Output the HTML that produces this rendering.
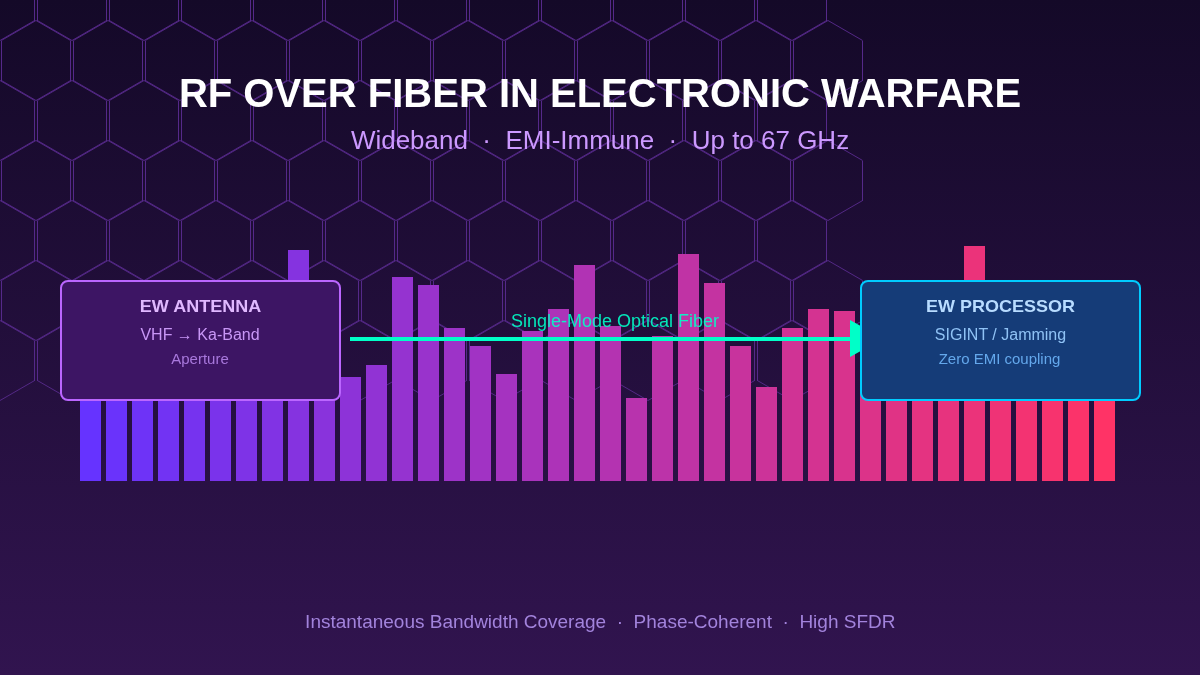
<!DOCTYPE html>
<html><head><meta charset="utf-8"><title>RF over Fiber in Electronic Warfare</title>
<style>
html,body{margin:0;padding:0;background:#150a28;}
body{width:1200px;height:675px;overflow:hidden;}
svg{display:block;font-family:"Liberation Sans",sans-serif;}
</style></head><body>
<svg width="1200" height="675" viewBox="0 0 1200 675">
<defs>
<linearGradient id="bg" x1="0" y1="0" x2="0" y2="1"><stop offset="0" stop-color="#140928"/><stop offset="1" stop-color="#31144f"/></linearGradient>
</defs>
<rect width="1200" height="675" fill="url(#bg)"/>
<g fill="none" stroke="#552989" stroke-width="1" transform="translate(0 0.5)">
<path shape-rendering="crispEdges" d="M34.64 -20.00L34.64 20.00M-34.64 20.00L-34.64 -20.00M106.64 -20.00L106.64 20.00M37.36 20.00L37.36 -20.00M178.64 -20.00L178.64 20.00M109.36 20.00L109.36 -20.00M250.64 -20.00L250.64 20.00M181.36 20.00L181.36 -20.00M322.64 -20.00L322.64 20.00M253.36 20.00L253.36 -20.00M394.64 -20.00L394.64 20.00M325.36 20.00L325.36 -20.00M466.64 -20.00L466.64 20.00M397.36 20.00L397.36 -20.00M538.64 -20.00L538.64 20.00M469.36 20.00L469.36 -20.00M610.64 -20.00L610.64 20.00M541.36 20.00L541.36 -20.00M682.64 -20.00L682.64 20.00M613.36 20.00L613.36 -20.00M754.64 -20.00L754.64 20.00M685.36 20.00L685.36 -20.00M826.64 -20.00L826.64 20.00M757.36 20.00L757.36 -20.00M70.64 40.00L70.64 80.00M1.36 80.00L1.36 40.00M142.64 40.00L142.64 80.00M73.36 80.00L73.36 40.00M214.64 40.00L214.64 80.00M145.36 80.00L145.36 40.00M286.64 40.00L286.64 80.00M217.36 80.00L217.36 40.00M358.64 40.00L358.64 80.00M289.36 80.00L289.36 40.00M430.64 40.00L430.64 80.00M361.36 80.00L361.36 40.00M502.64 40.00L502.64 80.00M433.36 80.00L433.36 40.00M574.64 40.00L574.64 80.00M505.36 80.00L505.36 40.00M646.64 40.00L646.64 80.00M577.36 80.00L577.36 40.00M718.64 40.00L718.64 80.00M649.36 80.00L649.36 40.00M790.64 40.00L790.64 80.00M721.36 80.00L721.36 40.00M862.64 40.00L862.64 80.00M793.36 80.00L793.36 40.00M34.64 100.00L34.64 140.00M-34.64 140.00L-34.64 100.00M106.64 100.00L106.64 140.00M37.36 140.00L37.36 100.00M178.64 100.00L178.64 140.00M109.36 140.00L109.36 100.00M250.64 100.00L250.64 140.00M181.36 140.00L181.36 100.00M322.64 100.00L322.64 140.00M253.36 140.00L253.36 100.00M394.64 100.00L394.64 140.00M325.36 140.00L325.36 100.00M466.64 100.00L466.64 140.00M397.36 140.00L397.36 100.00M538.64 100.00L538.64 140.00M469.36 140.00L469.36 100.00M610.64 100.00L610.64 140.00M541.36 140.00L541.36 100.00M682.64 100.00L682.64 140.00M613.36 140.00L613.36 100.00M754.64 100.00L754.64 140.00M685.36 140.00L685.36 100.00M826.64 100.00L826.64 140.00M757.36 140.00L757.36 100.00M70.64 160.00L70.64 200.00M1.36 200.00L1.36 160.00M142.64 160.00L142.64 200.00M73.36 200.00L73.36 160.00M214.64 160.00L214.64 200.00M145.36 200.00L145.36 160.00M286.64 160.00L286.64 200.00M217.36 200.00L217.36 160.00M358.64 160.00L358.64 200.00M289.36 200.00L289.36 160.00M430.64 160.00L430.64 200.00M361.36 200.00L361.36 160.00M502.64 160.00L502.64 200.00M433.36 200.00L433.36 160.00M574.64 160.00L574.64 200.00M505.36 200.00L505.36 160.00M646.64 160.00L646.64 200.00M577.36 200.00L577.36 160.00M718.64 160.00L718.64 200.00M649.36 200.00L649.36 160.00M790.64 160.00L790.64 200.00M721.36 200.00L721.36 160.00M862.64 160.00L862.64 200.00M793.36 200.00L793.36 160.00M34.64 220.00L34.64 260.00M-34.64 260.00L-34.64 220.00M106.64 220.00L106.64 260.00M37.36 260.00L37.36 220.00M178.64 220.00L178.64 260.00M109.36 260.00L109.36 220.00M250.64 220.00L250.64 260.00M181.36 260.00L181.36 220.00M322.64 220.00L322.64 260.00M253.36 260.00L253.36 220.00M394.64 220.00L394.64 260.00M325.36 260.00L325.36 220.00M466.64 220.00L466.64 260.00M397.36 260.00L397.36 220.00M538.64 220.00L538.64 260.00M469.36 260.00L469.36 220.00M610.64 220.00L610.64 260.00M541.36 260.00L541.36 220.00M682.64 220.00L682.64 260.00M613.36 260.00L613.36 220.00M754.64 220.00L754.64 260.00M685.36 260.00L685.36 220.00M826.64 220.00L826.64 260.00M757.36 260.00L757.36 220.00M70.64 280.00L70.64 320.00M1.36 320.00L1.36 280.00M142.64 280.00L142.64 320.00M73.36 320.00L73.36 280.00M214.64 280.00L214.64 320.00M145.36 320.00L145.36 280.00M286.64 280.00L286.64 320.00M217.36 320.00L217.36 280.00M358.64 280.00L358.64 320.00M289.36 320.00L289.36 280.00M430.64 280.00L430.64 320.00M361.36 320.00L361.36 280.00M502.64 280.00L502.64 320.00M433.36 320.00L433.36 280.00M574.64 280.00L574.64 320.00M505.36 320.00L505.36 280.00M646.64 280.00L646.64 320.00M577.36 320.00L577.36 280.00M718.64 280.00L718.64 320.00M649.36 320.00L649.36 280.00M790.64 280.00L790.64 320.00M721.36 320.00L721.36 280.00M862.64 280.00L862.64 320.00M793.36 320.00L793.36 280.00M34.64 340.00L34.64 380.00M-34.64 380.00L-34.64 340.00M106.64 340.00L106.64 380.00M37.36 380.00L37.36 340.00M178.64 340.00L178.64 380.00M109.36 380.00L109.36 340.00M250.64 340.00L250.64 380.00M181.36 380.00L181.36 340.00M322.64 340.00L322.64 380.00M253.36 380.00L253.36 340.00M394.64 340.00L394.64 380.00M325.36 380.00L325.36 340.00M466.64 340.00L466.64 380.00M397.36 380.00L397.36 340.00M538.64 340.00L538.64 380.00M469.36 380.00L469.36 340.00M610.64 340.00L610.64 380.00M541.36 380.00L541.36 340.00M682.64 340.00L682.64 380.00M613.36 380.00L613.36 340.00M754.64 340.00L754.64 380.00M685.36 380.00L685.36 340.00M826.64 340.00L826.64 380.00M757.36 380.00L757.36 340.00"/>
<path stroke-width="0.95" d="M-34.64 -20.00L0.00 -40.00L34.64 -20.00M34.64 20.00L0.00 40.00L-34.64 20.00M37.36 -20.00L72.00 -40.00L106.64 -20.00M106.64 20.00L72.00 40.00L37.36 20.00M109.36 -20.00L144.00 -40.00L178.64 -20.00M178.64 20.00L144.00 40.00L109.36 20.00M181.36 -20.00L216.00 -40.00L250.64 -20.00M250.64 20.00L216.00 40.00L181.36 20.00M253.36 -20.00L288.00 -40.00L322.64 -20.00M322.64 20.00L288.00 40.00L253.36 20.00M325.36 -20.00L360.00 -40.00L394.64 -20.00M394.64 20.00L360.00 40.00L325.36 20.00M397.36 -20.00L432.00 -40.00L466.64 -20.00M466.64 20.00L432.00 40.00L397.36 20.00M469.36 -20.00L504.00 -40.00L538.64 -20.00M538.64 20.00L504.00 40.00L469.36 20.00M541.36 -20.00L576.00 -40.00L610.64 -20.00M610.64 20.00L576.00 40.00L541.36 20.00M613.36 -20.00L648.00 -40.00L682.64 -20.00M682.64 20.00L648.00 40.00L613.36 20.00M685.36 -20.00L720.00 -40.00L754.64 -20.00M754.64 20.00L720.00 40.00L685.36 20.00M757.36 -20.00L792.00 -40.00L826.64 -20.00M826.64 20.00L792.00 40.00L757.36 20.00M1.36 40.00L36.00 20.00L70.64 40.00M70.64 80.00L36.00 100.00L1.36 80.00M73.36 40.00L108.00 20.00L142.64 40.00M142.64 80.00L108.00 100.00L73.36 80.00M145.36 40.00L180.00 20.00L214.64 40.00M214.64 80.00L180.00 100.00L145.36 80.00M217.36 40.00L252.00 20.00L286.64 40.00M286.64 80.00L252.00 100.00L217.36 80.00M289.36 40.00L324.00 20.00L358.64 40.00M358.64 80.00L324.00 100.00L289.36 80.00M361.36 40.00L396.00 20.00L430.64 40.00M430.64 80.00L396.00 100.00L361.36 80.00M433.36 40.00L468.00 20.00L502.64 40.00M502.64 80.00L468.00 100.00L433.36 80.00M505.36 40.00L540.00 20.00L574.64 40.00M574.64 80.00L540.00 100.00L505.36 80.00M577.36 40.00L612.00 20.00L646.64 40.00M646.64 80.00L612.00 100.00L577.36 80.00M649.36 40.00L684.00 20.00L718.64 40.00M718.64 80.00L684.00 100.00L649.36 80.00M721.36 40.00L756.00 20.00L790.64 40.00M790.64 80.00L756.00 100.00L721.36 80.00M793.36 40.00L828.00 20.00L862.64 40.00M862.64 80.00L828.00 100.00L793.36 80.00M-34.64 100.00L0.00 80.00L34.64 100.00M34.64 140.00L0.00 160.00L-34.64 140.00M37.36 100.00L72.00 80.00L106.64 100.00M106.64 140.00L72.00 160.00L37.36 140.00M109.36 100.00L144.00 80.00L178.64 100.00M178.64 140.00L144.00 160.00L109.36 140.00M181.36 100.00L216.00 80.00L250.64 100.00M250.64 140.00L216.00 160.00L181.36 140.00M253.36 100.00L288.00 80.00L322.64 100.00M322.64 140.00L288.00 160.00L253.36 140.00M325.36 100.00L360.00 80.00L394.64 100.00M394.64 140.00L360.00 160.00L325.36 140.00M397.36 100.00L432.00 80.00L466.64 100.00M466.64 140.00L432.00 160.00L397.36 140.00M469.36 100.00L504.00 80.00L538.64 100.00M538.64 140.00L504.00 160.00L469.36 140.00M541.36 100.00L576.00 80.00L610.64 100.00M610.64 140.00L576.00 160.00L541.36 140.00M613.36 100.00L648.00 80.00L682.64 100.00M682.64 140.00L648.00 160.00L613.36 140.00M685.36 100.00L720.00 80.00L754.64 100.00M754.64 140.00L720.00 160.00L685.36 140.00M757.36 100.00L792.00 80.00L826.64 100.00M826.64 140.00L792.00 160.00L757.36 140.00M1.36 160.00L36.00 140.00L70.64 160.00M70.64 200.00L36.00 220.00L1.36 200.00M73.36 160.00L108.00 140.00L142.64 160.00M142.64 200.00L108.00 220.00L73.36 200.00M145.36 160.00L180.00 140.00L214.64 160.00M214.64 200.00L180.00 220.00L145.36 200.00M217.36 160.00L252.00 140.00L286.64 160.00M286.64 200.00L252.00 220.00L217.36 200.00M289.36 160.00L324.00 140.00L358.64 160.00M358.64 200.00L324.00 220.00L289.36 200.00M361.36 160.00L396.00 140.00L430.64 160.00M430.64 200.00L396.00 220.00L361.36 200.00M433.36 160.00L468.00 140.00L502.64 160.00M502.64 200.00L468.00 220.00L433.36 200.00M505.36 160.00L540.00 140.00L574.64 160.00M574.64 200.00L540.00 220.00L505.36 200.00M577.36 160.00L612.00 140.00L646.64 160.00M646.64 200.00L612.00 220.00L577.36 200.00M649.36 160.00L684.00 140.00L718.64 160.00M718.64 200.00L684.00 220.00L649.36 200.00M721.36 160.00L756.00 140.00L790.64 160.00M790.64 200.00L756.00 220.00L721.36 200.00M793.36 160.00L828.00 140.00L862.64 160.00M862.64 200.00L828.00 220.00L793.36 200.00M-34.64 220.00L0.00 200.00L34.64 220.00M34.64 260.00L0.00 280.00L-34.64 260.00M37.36 220.00L72.00 200.00L106.64 220.00M106.64 260.00L72.00 280.00L37.36 260.00M109.36 220.00L144.00 200.00L178.64 220.00M178.64 260.00L144.00 280.00L109.36 260.00M181.36 220.00L216.00 200.00L250.64 220.00M250.64 260.00L216.00 280.00L181.36 260.00M253.36 220.00L288.00 200.00L322.64 220.00M322.64 260.00L288.00 280.00L253.36 260.00M325.36 220.00L360.00 200.00L394.64 220.00M394.64 260.00L360.00 280.00L325.36 260.00M397.36 220.00L432.00 200.00L466.64 220.00M466.64 260.00L432.00 280.00L397.36 260.00M469.36 220.00L504.00 200.00L538.64 220.00M538.64 260.00L504.00 280.00L469.36 260.00M541.36 220.00L576.00 200.00L610.64 220.00M610.64 260.00L576.00 280.00L541.36 260.00M613.36 220.00L648.00 200.00L682.64 220.00M682.64 260.00L648.00 280.00L613.36 260.00M685.36 220.00L720.00 200.00L754.64 220.00M754.64 260.00L720.00 280.00L685.36 260.00M757.36 220.00L792.00 200.00L826.64 220.00M826.64 260.00L792.00 280.00L757.36 260.00M1.36 280.00L36.00 260.00L70.64 280.00M70.64 320.00L36.00 340.00L1.36 320.00M73.36 280.00L108.00 260.00L142.64 280.00M142.64 320.00L108.00 340.00L73.36 320.00M145.36 280.00L180.00 260.00L214.64 280.00M214.64 320.00L180.00 340.00L145.36 320.00M217.36 280.00L252.00 260.00L286.64 280.00M286.64 320.00L252.00 340.00L217.36 320.00M289.36 280.00L324.00 260.00L358.64 280.00M358.64 320.00L324.00 340.00L289.36 320.00M361.36 280.00L396.00 260.00L430.64 280.00M430.64 320.00L396.00 340.00L361.36 320.00M433.36 280.00L468.00 260.00L502.64 280.00M502.64 320.00L468.00 340.00L433.36 320.00M505.36 280.00L540.00 260.00L574.64 280.00M574.64 320.00L540.00 340.00L505.36 320.00M577.36 280.00L612.00 260.00L646.64 280.00M646.64 320.00L612.00 340.00L577.36 320.00M649.36 280.00L684.00 260.00L718.64 280.00M718.64 320.00L684.00 340.00L649.36 320.00M721.36 280.00L756.00 260.00L790.64 280.00M790.64 320.00L756.00 340.00L721.36 320.00M793.36 280.00L828.00 260.00L862.64 280.00M862.64 320.00L828.00 340.00L793.36 320.00M-34.64 340.00L0.00 320.00L34.64 340.00M34.64 380.00L0.00 400.00L-34.64 380.00M37.36 340.00L72.00 320.00L106.64 340.00M106.64 380.00L72.00 400.00L37.36 380.00M109.36 340.00L144.00 320.00L178.64 340.00M178.64 380.00L144.00 400.00L109.36 380.00M181.36 340.00L216.00 320.00L250.64 340.00M250.64 380.00L216.00 400.00L181.36 380.00M253.36 340.00L288.00 320.00L322.64 340.00M322.64 380.00L288.00 400.00L253.36 380.00M325.36 340.00L360.00 320.00L394.64 340.00M394.64 380.00L360.00 400.00L325.36 380.00M397.36 340.00L432.00 320.00L466.64 340.00M466.64 380.00L432.00 400.00L397.36 380.00M469.36 340.00L504.00 320.00L538.64 340.00M538.64 380.00L504.00 400.00L469.36 380.00M541.36 340.00L576.00 320.00L610.64 340.00M610.64 380.00L576.00 400.00L541.36 380.00M613.36 340.00L648.00 320.00L682.64 340.00M682.64 380.00L648.00 400.00L613.36 380.00M685.36 340.00L720.00 320.00L754.64 340.00M754.64 380.00L720.00 400.00L685.36 380.00M757.36 340.00L792.00 320.00L826.64 340.00M826.64 380.00L792.00 400.00L757.36 380.00"/>
</g>
<g>
<rect x="80" y="300" width="21" height="181" fill="#6633ff"/>
<rect x="106" y="300" width="21" height="181" fill="#6a33fb"/>
<rect x="132" y="300" width="21" height="181" fill="#6e33f7"/>
<rect x="158" y="300" width="21" height="181" fill="#7233f3"/>
<rect x="184" y="300" width="21" height="181" fill="#7633ef"/>
<rect x="210" y="300" width="21" height="181" fill="#7a33eb"/>
<rect x="236" y="300" width="21" height="181" fill="#7e33e7"/>
<rect x="262" y="300" width="21" height="181" fill="#8133e4"/>
<rect x="288" y="250" width="21" height="231" fill="#8533e0"/>
<rect x="314" y="300" width="21" height="181" fill="#8933dc"/>
<rect x="340" y="377" width="21" height="104" fill="#8d33d8"/>
<rect x="366" y="365" width="21" height="116" fill="#9133d4"/>
<rect x="392" y="277" width="21" height="204" fill="#9533d0"/>
<rect x="418" y="285" width="21" height="196" fill="#9933cc"/>
<rect x="444" y="328" width="21" height="153" fill="#9d33c8"/>
<rect x="470" y="346" width="21" height="135" fill="#a133c4"/>
<rect x="496" y="374" width="21" height="107" fill="#a533c0"/>
<rect x="522" y="331" width="21" height="150" fill="#a933bc"/>
<rect x="548" y="309" width="21" height="172" fill="#ad33b8"/>
<rect x="574" y="265" width="21" height="216" fill="#b133b4"/>
<rect x="600" y="326" width="21" height="155" fill="#b433b1"/>
<rect x="626" y="398" width="21" height="83" fill="#b833ad"/>
<rect x="652" y="336" width="21" height="145" fill="#bc33a9"/>
<rect x="678" y="254" width="21" height="227" fill="#c033a5"/>
<rect x="704" y="283" width="21" height="198" fill="#c433a1"/>
<rect x="730" y="346" width="21" height="135" fill="#c8339d"/>
<rect x="756" y="387" width="21" height="94" fill="#cc3399"/>
<rect x="782" y="328" width="21" height="153" fill="#d03395"/>
<rect x="808" y="309" width="21" height="172" fill="#d43391"/>
<rect x="834" y="311" width="21" height="170" fill="#d8338d"/>
<rect x="860" y="300" width="21" height="181" fill="#dc3389"/>
<rect x="886" y="300" width="21" height="181" fill="#e03385"/>
<rect x="912" y="300" width="21" height="181" fill="#e43381"/>
<rect x="938" y="300" width="21" height="181" fill="#e7337e"/>
<rect x="964" y="246" width="21" height="235" fill="#eb337a"/>
<rect x="990" y="300" width="21" height="181" fill="#ef3376"/>
<rect x="1016" y="300" width="21" height="181" fill="#f33372"/>
<rect x="1042" y="300" width="21" height="181" fill="#f7336e"/>
<rect x="1068" y="300" width="21" height="181" fill="#fb336a"/>
<rect x="1094" y="300" width="21" height="181" fill="#ff3366"/>
</g>
<line x1="350" y1="339" x2="851" y2="339" stroke="#00ffc8" stroke-width="4"/>
<polygon points="850,320 883,338.5 850,357" fill="#00ffc8"/>
<text transform="translate(615 326.8) scale(1 0.98)" font-size="18" fill="#00ffc8" fill-opacity="0.9" text-anchor="middle">Single-Mode Optical Fiber</text>
<rect x="61" y="281" width="279" height="119" rx="7" fill="#3d1564" stroke="#bb66ff" stroke-width="2"/>
<text transform="translate(200.5 312) scale(1 0.93)" font-size="18" font-weight="bold" fill="#e0b8ff" text-anchor="middle">EW ANTENNA</text>
<text x="200" y="340" font-size="16" fill="#c896f6" text-anchor="middle">VHF → Ka-Band</text>
<text transform="translate(200 363.7) scale(1 1.03)" font-size="15" fill="#a878dc" text-anchor="middle">Aperture</text>
<rect x="861" y="281" width="279" height="119" rx="7" fill="#153c78" stroke="#00ccff" stroke-width="2"/>
<text transform="translate(1000.5 312) scale(1 0.93)" font-size="18" font-weight="bold" fill="#b8dcff" text-anchor="middle">EW PROCESSOR</text>
<text x="1000.5" y="340" font-size="16" fill="#8fc2f5" text-anchor="middle">SIGINT / Jamming</text>
<text transform="translate(999.5 363.7) scale(1 1.03)" font-size="15" fill="#64a8ec" text-anchor="middle">Zero EMI coupling</text>
<text x="600" y="106.5" font-size="40" font-weight="bold" fill="#ffffff" text-anchor="middle">RF OVER FIBER IN ELECTRONIC WARFARE</text>
<text transform="translate(600 149) scale(1 0.967)" font-size="26" fill="#cc99ff" text-anchor="middle" xml:space="preserve">Wideband  ·  EMI-Immune  ·  Up to 67 GHz</text>
<text x="600.3" y="628" font-size="19" fill="#a283dc" text-anchor="middle" xml:space="preserve">Instantaneous Bandwidth Coverage  ·  Phase-Coherent  ·  High SFDR</text>
</svg>
</body></html>
